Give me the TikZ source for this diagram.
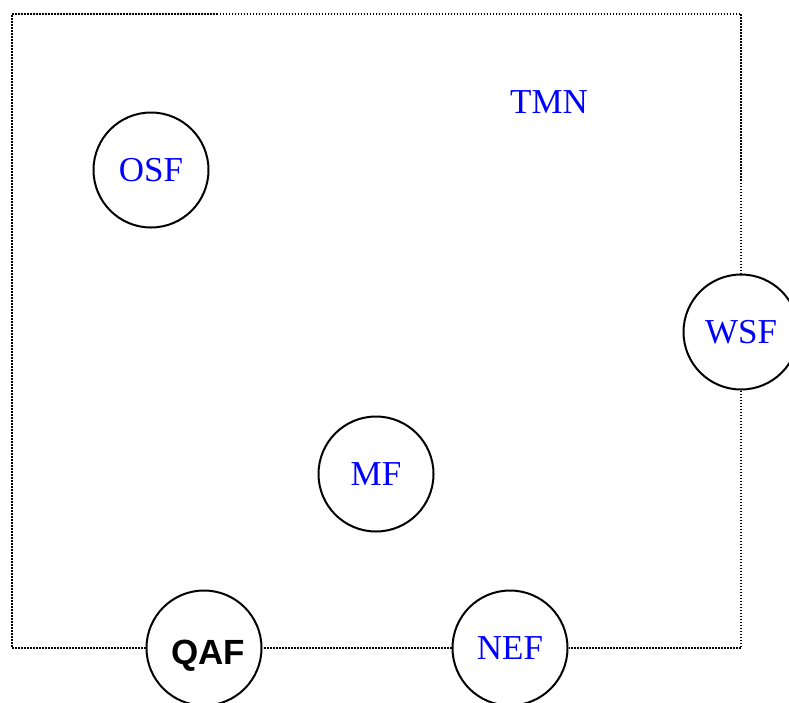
\documentclass[tikz,border=0pt]{standalone}
\usepackage{fontspec}
\setmainfont{Liberation Serif}
\setsansfont{Liberation Sans}
\begin{document}
\begin{tikzpicture}[x=1pt,y=-1pt,
  fn/.style={circle,draw=black,line width=2pt,minimum size=115pt,inner sep=0pt,fill=white,
    font=\fontsize{35}{40}\selectfont,text=blue},
  fnb/.style={fn,text=black,font=\fontsize{35}{40}\selectfont\sffamily\bfseries},
  dotline/.style={line width=1.4pt,dash pattern=on 1.4pt off 1.6pt,black}]
\useasboundingbox (0,0) rectangle (789,702);
\coordinate (tl) at (12,14);
\coordinate (tr) at (741,14);
\coordinate (bl) at (12,648);
\coordinate (br) at (741,648);
\node[fn] (OSF) at (151,170) {OSF};
\node[fn] (WSF) at (741,332) {WSF};
\node[fn] (MF) at (376,474) {MF};
\node[fnb] (QAF) at (204,648) {\hspace*{8pt}\rule{0pt}{40pt}QAF};
\node[fn] (NEF) at (510,648) {NEF};
\node[text=blue,font=\fontsize{35}{40}\selectfont,inner sep=0pt] (TMN) at (549,102) {TMN};
\draw[dotline] (QAF) -- (bl) -- (tl) -- (tr) -- (WSF);
\draw[dotline] (WSF) -- (br) -- (NEF);
\draw[dotline] (NEF) -- (QAF);
\end{tikzpicture}
\end{document}
